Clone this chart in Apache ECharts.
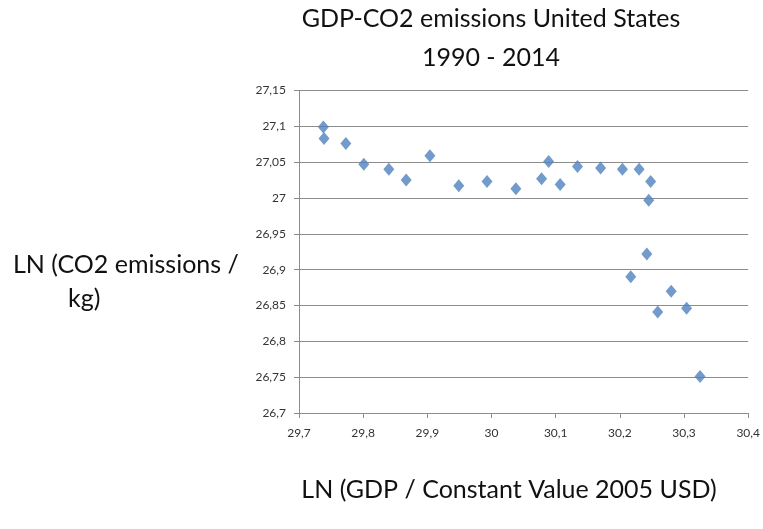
<!DOCTYPE html>
<html>
<head>
<meta charset="utf-8">
<script src="https://cdn.jsdelivr.net/npm/echarts@6/dist/echarts.min.js"></script>
<style>html,body{margin:0;padding:0;background:#fff;}#c{width:763px;height:529px;}</style>
</head>
<body>
<div id="c"></div>
<script>
// LN(GDP) values
var gdpLn = [29.738, 29.739, 29.773, 29.801, 29.840, 29.867, 29.904, 29.949, 29.993, 30.038,
             30.078, 30.089, 30.107, 30.134, 30.170, 30.204, 30.230, 30.248, 30.245, 30.242,
             30.217, 30.280, 30.259, 30.304, 30.325];
// LN(CO2) values
var co2Ln = [27.099, 27.083, 27.076, 27.047, 27.040, 27.025, 27.059, 27.017, 27.023, 27.013,
             27.027, 27.051, 27.019, 27.044, 27.042, 27.040, 27.040, 27.023, 26.997, 26.922,
             26.890, 26.870, 26.841, 26.846, 26.751];
var titleLines = ['GDP-CO2 emissions United States', '1990 - 2014'];
var yNameLines = ['LN (CO2 emissions /', 'kg)'];
var xName = 'LN (GDP / Constant Value 2005 USD)';

var points = gdpLn.map(function (x, i) { return [x, co2Ln[i]]; });
var fontFam = 'Lato, "Open Sans", sans-serif';

var chart = echarts.init(document.getElementById('c'), null, {renderer: 'canvas'});
chart.setOption({
  animation: false,
  backgroundColor: '#ffffff',
  grid: {left: 299, right: 13, top: 90.5, bottom: 116, containLabel: false},
  xAxis: {
    type: 'value', min: 29.7, max: 30.4, interval: 0.1,
    axisLine: {show: true, lineStyle: {color: '#8c8c8c', width: 1}},
    axisTick: {show: true, length: 5, lineStyle: {color: '#8c8c8c'}},
    splitLine: {show: false},
    axisLabel: {
      margin: 14, color: '#333', fontSize: 12, fontFamily: fontFam,
      formatter: function (v) { return String(Math.round(v * 10) / 10).replace('.', ','); }
    }
  },
  yAxis: {
    type: 'value', min: 26.7, max: 27.15, interval: 0.05,
    axisLine: {show: true, lineStyle: {color: '#8c8c8c', width: 1}},
    axisTick: {show: true, length: 5, lineStyle: {color: '#8c8c8c'}},
    splitLine: {show: true, lineStyle: {color: '#8c8c8c', width: 1}},
    axisLabel: {
      margin: 13, color: '#333', fontSize: 12, fontFamily: fontFam,
      formatter: function (v) { return String(Math.round(v * 100) / 100).replace('.', ','); }
    }
  },
  series: [{
    type: 'scatter',
    data: points,
    symbol: 'diamond',
    symbolSize: [11, 13],
    itemStyle: {color: '#4F81BD'}
  }],
  graphic: [
    {type: 'text', x: 491, y: 19, style: {text: titleLines[0], fontSize: 25, fontFamily: fontFam, fill: '#111', align: 'center', verticalAlign: 'middle'}},
    {type: 'text', x: 491, y: 58, style: {text: titleLines[1], fontSize: 25, fontFamily: fontFam, fill: '#111', align: 'center', verticalAlign: 'middle'}},
    {type: 'text', x: 13, y: 265, style: {text: yNameLines[0], fontSize: 25, fontFamily: fontFam, fill: '#111', align: 'left', verticalAlign: 'middle'}},
    {type: 'text', x: 68, y: 299, style: {text: yNameLines[1], fontSize: 25, fontFamily: fontFam, fill: '#111', align: 'left', verticalAlign: 'middle'}},
    {type: 'text', x: 509, y: 490, style: {text: xName, fontSize: 25, fontFamily: fontFam, fill: '#111', align: 'center', verticalAlign: 'middle'}}
  ]
});
</script>
</body>
</html>
